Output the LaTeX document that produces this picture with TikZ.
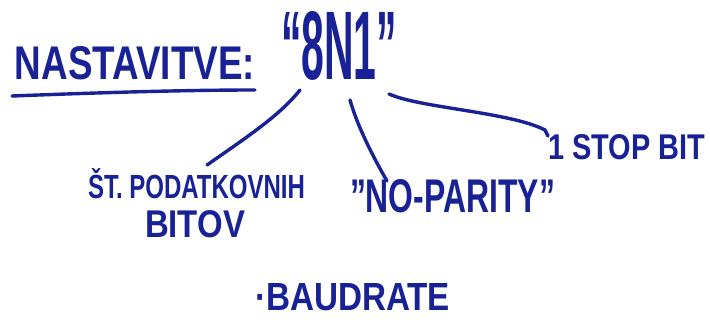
\documentclass[tikz,border=0pt]{standalone}
\usepackage{fontspec}
\setmainfont{Liberation Sans}
\usepackage{graphicx}
\definecolor{ink}{RGB}{24,34,150}
\newcommand{\fitTxt}[3]{\resizebox{#1pt}{#2pt}{\bfseries #3}}
\begin{document}
\begin{tikzpicture}[x=1pt,y=-1pt,
  lbl/.style={inner sep=0pt,outer sep=0pt,text=ink,anchor=south west},
  wire/.style={draw=ink,line width=3.4pt,line cap=round,line join=round}]
\useasboundingbox[fill=white] (0,0) rectangle (710,320);
% texts (anchor south west at baseline-left, sized to the reference)
\node[lbl] (title) at (15,80) {\fitTxt{240}{33}{NASTAVITVE:}};
\node[lbl] (code) at (281,80) {\fitTxt{116}{68}{“8N1”}};
\node[lbl] (bits1) at (88,199) {\fitTxt{217}{30}{ŠT. PODATKOVNIH}};
\node[lbl] (bits2) at (145,238) {\fitTxt{100}{27}{BITOV}};
\node[lbl] (parity) at (350,213) {\fitTxt{205}{33}{"NO-PARITY"}};
\node[lbl] (stop) at (548,160) {\fitTxt{157}{25}{1 STOP BIT}};
\node[lbl] (baud) at (255,311) {\fitTxt{195}{27}{·BAUDRATE}};
% connector end points
\coordinate (c8) at (300,90);
\coordinate (cN) at (350,100);
\coordinate (c1) at (389,94);
\coordinate (e1) at (207,165);
\coordinate (e2) at (387,181);
\coordinate (e3) at (545,130);
\coordinate (u1) at (12,96);
\coordinate (u2) at (255,90);
% underline
\draw[wire] (u1) .. controls (90,93) and (180,90) .. (u2);
% connectors
\draw[wire] (c8) .. controls (280,115) and (250,135) .. (e1);
\draw[wire] (cN) .. controls (357,125) and (372,155) .. (e2);
\draw[wire] (c1) .. controls (420,108) and (510,112) .. (e3) -- ++(3,6);
\end{tikzpicture}
\end{document}
